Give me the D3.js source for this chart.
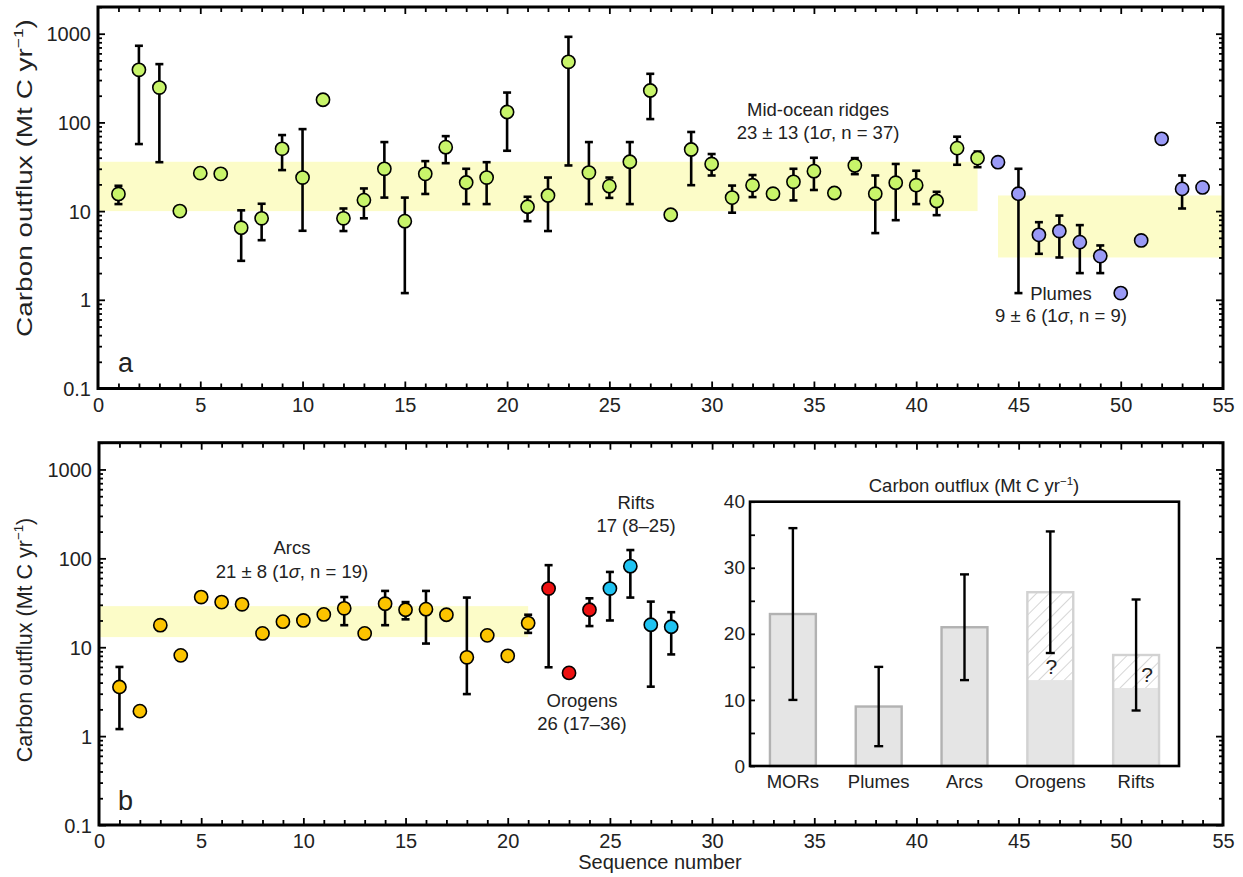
<!DOCTYPE html>
<html><head><meta charset="utf-8">
<script src="https://cdn.jsdelivr.net/npm/d3@7"></script>
<style>
body{margin:0;background:#fff;}
text{font-family:"Liberation Sans",Arial,sans-serif;fill:#222;}
</style></head><body>
<svg id="chart" width="1243" height="877"></svg>
<script>
// ---------------- DATA ----------------
// Panel a: mid-ocean ridges (sequence 1-43)
const morSeq  = d3.range(1, 44);
const morFlux = [15.6,392,247,10.0,26.8,26.3,6.5,8.3,50.4,23.9,180,8.3,13.3,30,7.7,26.3,52.6,21,23.9,131,11.2,15,482,27.2,19.1,36,229,9.1,49.5,34,14.2,19.6,15.7,21.4,28.2,16,32.7,15.7,20.9,19.6,13,51.3,39.6];
const morLow  = [12.0,57,35.6,null,null,null,2.75,4.7,29,6.0,null,5.96,8.3,14.2,1.19,15.6,34.7,12,12,47.9,7.7,5.96,32.7,12,14.1,12,109,8.0,19.6,25.2,9.6,14.4,null,13.2,17.3,14.9,26.1,5.65,7.9,12,9.0,33.3,31.3];
const morHigh = [19.3,731,454,null,null,null,10.2,12.1,72,84,null,10.7,18,60,14.2,36.6,70,30,35.6,217,14.5,23.9,922,60,23.9,60,353,9.6,78,44,19.4,25.5,null,30,39.9,17.2,39.6,25.2,34,28.5,16.5,69,47];
// Panel a: plumes (sequence 44-54)
const plumeSeq  = d3.range(44, 55);
const plumeFlux = [35.6,15.7,5.4,5.96,4.47,3.11,1.19,4.67,65.3,17.8,18.5];
const plumeLow  = [null,1.19,3.3,3.0,2.0,2.0,null,null,null,10.7,null];
const plumeHigh = [null,30,7.5,8.9,6.95,4.1,null,null,null,25.2,null];
// Panel b: arcs (1-21), orogens (22-24), rifts (25-28)
const arcSeq  = d3.range(1, 22);
const arcFlux = [3.57,1.91,17.7,8.1,36.7,32.2,30.4,14.3,19.4,20,23.4,27.4,14.3,30.9,26.4,26.8,23.2,7.7,13.6,8.0,18.7];
const arcLow  = [1.2,null,null,null,null,null,null,null,null,null,null,17.7,null,17.7,20.6,11.0,null,2.97,null,null,14.5];
const arcHigh = [6.0,null,null,null,null,null,null,null,null,null,null,36.7,null,43,32.2,43,null,36.2,null,null,23.2];
const orogenSeq  = [22,23,24];
const orogenFlux = [45.7,5.14,26.4];
const orogenLow  = [5.95,null,17.3];
const orogenHigh = [83.8,null,35.5];
const riftSeq  = [25,26,27,28];
const riftFlux = [45.7,81.7,17.9,17];
const riftLow  = [20,36.2,3.6,8.3];
const riftHigh = [70.3,124,32.6,24.8];
// shaded mean ± 1σ bands
const bandsA_start = [0, 44], bandsA_end = [43, 55], bandsA_low = [10, 3], bandsA_high = [36, 15];
const bandsB_start = [0], bandsB_end = [21], bandsB_low = [13], bandsB_high = [29];
// inset bar chart
const insetCats  = ["MORs","Plumes","Arcs","Orogens","Rifts"];
const insetTotal = [23, 9, 21, 26.3, 16.8];
const insetSolid = [23, 9, 21, 13, 11.8];
const insetLow   = [10, 3, 13, 17.1, 8.4];
const insetHigh  = [36, 15, 29, 35.5, 25.2];
const insetTicks = [0,10,20,30,40];
// tick labels
const xTickLabels = d3.range(0, 56, 5);
const yTickLabels = [0.1, 1, 10, 100, 1000];

// ---------------- STYLE ----------------
const C = {mor:"#c8f46a", plume:"#9a9af6", arc:"#fcc400", orogen:"#ee1111", rift:"#1fc3f2", band:"#fcfcc8"};
const FONT = '"Liberation Sans", Arial, sans-serif';

const svg = d3.select("#chart");
svg.append("rect").attr("width",1243).attr("height",877).attr("fill","#fff");

const defs = svg.append("defs");
const pat = defs.append("pattern").attr("id","hatch").attr("patternUnits","userSpaceOnUse")
  .attr("width",9).attr("height",9).attr("patternTransform","rotate(45)");
pat.append("rect").attr("width",9).attr("height",9).attr("fill","#fff");
pat.append("line").attr("x1",0).attr("y1",0).attr("x2",0).attr("y2",9).attr("stroke","#d6d6d6").attr("stroke-width",2);

function makePanel(L, R, T, B){
  const x = d3.scaleLinear().domain([0,55]).range([L,R]);
  const y = d3.scaleLog().domain([0.1,2000]).range([B,T]);
  return {x, y, L, R, T, B, g: svg.append("g")};
}

function drawBands(p, s, e, lo, hi){
  p.g.append("g").selectAll("rect").data(s).join("rect")
    .attr("x",(d,i)=>p.x(s[i])).attr("width",(d,i)=>p.x(e[i])-p.x(s[i]))
    .attr("y",(d,i)=>p.y(hi[i])).attr("height",(d,i)=>p.y(lo[i])-p.y(hi[i]))
    .attr("fill",C.band);
}

function drawSeries(p, seq, val, lo, hi, color){
  const idx = d3.range(seq.length);
  const eg = p.g.append("g").attr("stroke","#000").attr("stroke-width",2.6).attr("fill","none");
  idx.filter(i=>lo[i]!=null).forEach(i=>{
    const cx = p.x(seq[i]);
    eg.append("line").attr("x1",cx).attr("x2",cx).attr("y1",p.y(lo[i])).attr("y2",p.y(hi[i]));
    eg.append("line").attr("x1",cx-4).attr("x2",cx+4).attr("y1",p.y(lo[i])).attr("y2",p.y(lo[i]));
    eg.append("line").attr("x1",cx-4).attr("x2",cx+4).attr("y1",p.y(hi[i])).attr("y2",p.y(hi[i]));
  });
  p.g.append("g").selectAll("circle").data(idx).join("circle")
    .attr("cx",i=>p.x(seq[i])).attr("cy",i=>p.y(val[i])).attr("r",6.6)
    .attr("fill",color).attr("stroke","#000").attr("stroke-width",1.6);
}

function drawAxes(p){
  const all = [];
  [0.1,1,10,100,1000].forEach(d=>{ for(let k=1;k<=9;k++){ const v=+(k*d).toPrecision(3); if(v<=2000) all.push(v);} });
  const major = all.filter(v=>yTickLabels.includes(v));
  const minor = all.filter(v=>!yTickLabels.includes(v));
  const clean = g=>{ g.select(".domain").remove(); g.selectAll("line").attr("stroke","#000").attr("stroke-width",1.8); };
  p.g.append("g").attr("transform",`translate(${p.L},0)`).call(d3.axisRight(p.y).tickValues(major).tickSize(7).tickFormat("")).call(clean);
  p.g.append("g").attr("transform",`translate(${p.L},0)`).call(d3.axisRight(p.y).tickValues(minor).tickSize(4).tickFormat("")).call(clean);
  p.g.append("g").attr("transform",`translate(${p.R},0)`).call(d3.axisLeft(p.y).tickValues(major).tickSize(7).tickFormat("")).call(clean);
  p.g.append("g").attr("transform",`translate(${p.R},0)`).call(d3.axisLeft(p.y).tickValues(minor).tickSize(4).tickFormat("")).call(clean);
  const xi = d3.range(1,55);
  [[p.B, d3.axisTop],[p.T, d3.axisBottom]].forEach(([yy,ax])=>{
    p.g.append("g").attr("transform",`translate(0,${yy})`).call(ax(p.x).tickValues(xi.filter(v=>v%5)).tickSize(5).tickFormat("")).call(clean);
    p.g.append("g").attr("transform",`translate(0,${yy})`).call(ax(p.x).tickValues(xi.filter(v=>v%5===0)).tickSize(7).tickFormat("")).call(clean);
  });
  // labels
  p.g.append("g").attr("transform",`translate(${p.L},0)`)
    .call(d3.axisLeft(p.y).tickValues(yTickLabels).tickSize(0).tickPadding(7).tickFormat(d=>String(d)))
    .call(g=>g.select(".domain").remove())
    .call(g=>g.selectAll("text").attr("font-size",20).attr("font-family",FONT).attr("fill","#222").attr("dy","0.35em"));
  p.g.append("g").attr("transform",`translate(0,${p.B})`)
    .call(d3.axisBottom(p.x).tickValues(xTickLabels).tickSize(0).tickPadding(9).tickFormat(d=>String(d)))
    .call(g=>g.select(".domain").remove())
    .call(g=>g.selectAll("text").attr("font-size",20).attr("font-family",FONT).attr("fill","#222"));
  p.g.append("rect").attr("x",p.L).attr("y",p.T).attr("width",p.R-p.L).attr("height",p.B-p.T)
    .attr("fill","none").attr("stroke","#000").attr("stroke-width",3);
}

function yLabel(cx, cy, size, stretch){
  const t = svg.append("text").attr("transform",`translate(${cx},${cy}) rotate(-90) scale(${stretch},1)`)
    .attr("text-anchor","middle").attr("font-size",size);
  t.append("tspan").text("Carbon outflux (Mt C yr");
  t.append("tspan").text("\u22121").attr("font-size",size*0.62).attr("dy",-size*0.42);
  t.append("tspan").text(")").attr("dy",size*0.42);
}

function sigmaText(x, y, pre, post){
  const t = svg.append("text").attr("x",x).attr("y",y).attr("text-anchor","middle").attr("font-size",18.5);
  t.append("tspan").text(pre);
  t.append("tspan").text("\u03c3").attr("font-style","italic");
  t.append("tspan").text(post);
}
function plainText(x, y, s, size){
  svg.append("text").attr("x",x).attr("y",y).attr("text-anchor","middle").attr("font-size",size||18.5).text(s);
}

// ---------------- PANEL A ----------------
const pa = makePanel(98, 1223, 7, 388.5);
drawBands(pa, bandsA_start, bandsA_end, bandsA_low, bandsA_high);
drawSeries(pa, morSeq, morFlux, morLow, morHigh, C.mor);
drawSeries(pa, plumeSeq, plumeFlux, plumeLow, plumeHigh, C.plume);
drawAxes(pa);
yLabel(32, 178, 21.5, 1.3);
svg.append("text").attr("x",118).attr("y",372).attr("font-size",27).text("a");
plainText(818, 116, "Mid-ocean ridges");
sigmaText(818, 139, "23 \u00b1 13 (1", ", n = 37)");
plainText(1061, 300, "Plumes");
sigmaText(1061, 322, "9 \u00b1 6 (1", ", n = 9)");

// ---------------- PANEL B ----------------
const pb = makePanel(99, 1223, 442.7, 825);
drawBands(pb, bandsB_start, bandsB_end, bandsB_low, bandsB_high);
drawSeries(pb, arcSeq, arcFlux, arcLow, arcHigh, C.arc);
drawSeries(pb, orogenSeq, orogenFlux, orogenLow, orogenHigh, C.orogen);
drawSeries(pb, riftSeq, riftFlux, riftLow, riftHigh, C.rift);
drawAxes(pb);
yLabel(32, 640, 21.5, 1.0);
svg.append("text").attr("x",660).attr("y",869).attr("text-anchor","middle").attr("font-size",20).text("Sequence number");
svg.append("text").attr("x",118).attr("y",810).attr("font-size",27).text("b");
plainText(292, 554, "Arcs");
sigmaText(292, 578, "21 \u00b1 8 (1", ", n = 19)");
plainText(636, 509, "Rifts");
plainText(636, 532, "17 (8\u201325)");
plainText(582, 707, "Orogens");
plainText(582, 730, "26 (17\u201336)");

// ---------------- INSET ----------------
const iL = 750, iR = 1179, iT = 501.7, iB = 766;
const ix = d3.scaleBand().domain(insetCats).range([iL,iR]).padding(0);
const iy = d3.scaleLinear().domain([0,40]).range([iB,iT]);
const ig = svg.append("g");
ig.append("rect").attr("x",iL).attr("y",iT).attr("width",iR-iL).attr("height",iB-iT).attr("fill","#fff");
const bw = ix.bandwidth()*0.535;
const bx = c => ix(c)+ix.bandwidth()/2 - bw/2;
insetCats.forEach((c,i)=>{
  const hatched = insetSolid[i] < insetTotal[i];
  ig.append("rect").attr("x",bx(c)).attr("width",bw).attr("y",iy(insetTotal[i])).attr("height",iy(0)-iy(insetTotal[i]))
    .attr("fill", hatched ? "url(#hatch)" : "#e5e5e5");
  ig.append("rect").attr("x",bx(c)).attr("width",bw).attr("y",iy(insetSolid[i])).attr("height",iy(0)-iy(insetSolid[i]))
    .attr("fill","#e5e5e5");
  ig.append("rect").attr("x",bx(c)).attr("width",bw).attr("y",iy(insetTotal[i])).attr("height",iy(0)-iy(insetTotal[i]))
    .attr("fill","none").attr("stroke", hatched ? "#d2d2d2" : "#b2b2b2").attr("stroke-width",2.4);
});
const ieg = ig.append("g").attr("stroke","#000").attr("stroke-width",2.4);
insetCats.forEach((c,i)=>{
  const cx = ix(c)+ix.bandwidth()/2;
  ieg.append("line").attr("x1",cx).attr("x2",cx).attr("y1",iy(insetLow[i])).attr("y2",iy(insetHigh[i]));
  ieg.append("line").attr("x1",cx-4.5).attr("x2",cx+4.5).attr("y1",iy(insetLow[i])).attr("y2",iy(insetLow[i]));
  ieg.append("line").attr("x1",cx-4.5).attr("x2",cx+4.5).attr("y1",iy(insetHigh[i])).attr("y2",iy(insetHigh[i]));
});
insetCats.forEach((c,i)=>{
  if(insetSolid[i] < insetTotal[i]){
    const cx = ix(c)+ix.bandwidth()/2;
    ig.append("text").attr("x",cx + (i===4?11:1)).attr("y",iy(insetSolid[i])-6).attr("text-anchor","middle")
      .attr("font-size",21).text("?");
  }
});
ig.append("g").attr("transform",`translate(${iL},0)`)
  .call(d3.axisRight(iy).tickValues(d3.range(0,41,5)).tickSize(5).tickFormat(""))
  .call(g=>{g.select(".domain").remove(); g.selectAll("line").attr("stroke","#000").attr("stroke-width",1.8);});
ig.append("g").attr("transform",`translate(${iL},0)`)
  .call(d3.axisLeft(iy).tickValues(insetTicks).tickSize(0).tickPadding(5))
  .call(g=>g.select(".domain").remove())
  .call(g=>g.selectAll("text").attr("font-size",19).attr("font-family",FONT).attr("fill","#222"));
ig.append("g").attr("transform",`translate(0,${iB})`)
  .call(d3.axisBottom(ix).tickSize(0).tickPadding(9))
  .call(g=>g.select(".domain").remove())
  .call(g=>g.selectAll("text").attr("font-size",18.5).attr("font-family",FONT).attr("fill","#222"));
ig.append("rect").attr("x",iL).attr("y",iT).attr("width",iR-iL).attr("height",iB-iT)
  .attr("fill","none").attr("stroke","#000").attr("stroke-width",2.6);
const it = ig.append("text").attr("x",974).attr("y",492).attr("text-anchor","middle").attr("font-size",18.5);
it.append("tspan").text("Carbon outflux (Mt C yr");
it.append("tspan").text("\u22121").attr("font-size",11.5).attr("dy",-7.5);
it.append("tspan").text(")").attr("dy",7.5);
</script></body></html>
